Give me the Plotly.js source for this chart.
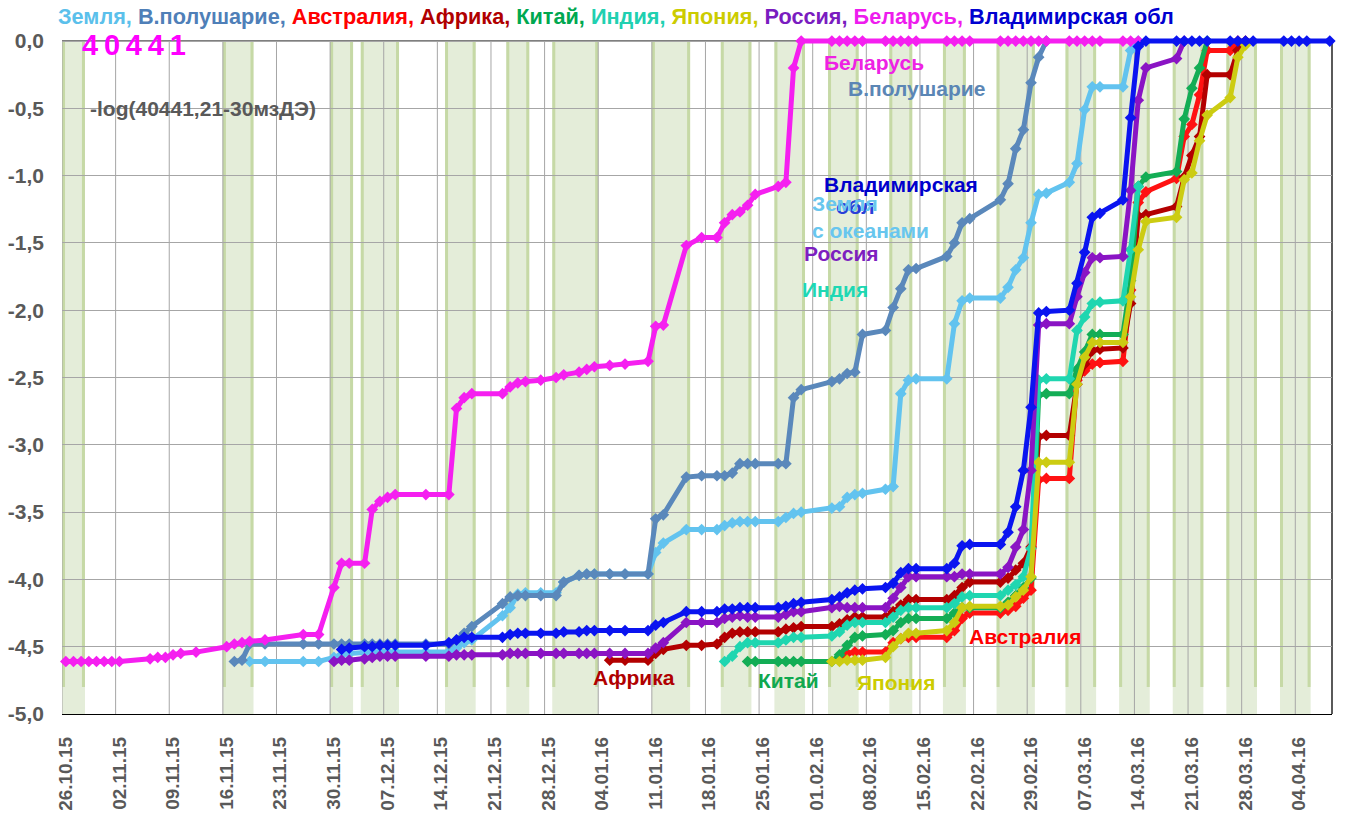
<!DOCTYPE html>
<html>
<head>
<meta charset="utf-8">
<script src="https://cdn.plot.ly/plotly-3.0.1.min.js"></script>
<style>
body{margin:0;background:#fff;}
#chart{width:1352px;height:814px;}
</style>
</head>
<body>
<div id="chart"></div>
<script>
// measurement dates (dd.mm.yy), every series is a run of these
var dates = ['26.10.15','27.10.15','28.10.15','29.10.15','30.10.15','31.10.15','01.11.15','02.11.15',
 '06.11.15','07.11.15','08.11.15','09.11.15','10.11.15','12.11.15','16.11.15','17.11.15','18.11.15','19.11.15',
 '21.11.15','26.11.15','28.11.15','30.11.15','01.12.15','02.12.15','04.12.15','05.12.15','06.12.15','07.12.15',
 '08.12.15','12.12.15','15.12.15','16.12.15','17.12.15','18.12.15','22.12.15','23.12.15','24.12.15','25.12.15',
 '27.12.15','29.12.15','30.12.15','01.01.16','02.01.16','03.01.16','05.01.16','07.01.16','10.01.16','11.01.16',
 '12.01.16','15.01.16','17.01.16','19.01.16','20.01.16','21.01.16','22.01.16','23.01.16','24.01.16','27.01.16',
 '28.01.16','29.01.16','30.01.16','03.02.16','04.02.16','05.02.16','06.02.16','07.02.16','10.02.16','11.02.16',
 '12.02.16','13.02.16','14.02.16','18.02.16','19.02.16','20.02.16','21.02.16','25.02.16','26.02.16','27.02.16',
 '28.02.16','29.02.16','01.03.16','02.03.16','05.03.16','06.03.16','07.03.16','08.03.16','09.03.16','12.03.16',
 '13.03.16','14.03.16','15.03.16','19.03.16','20.03.16','21.03.16','22.03.16','23.03.16','26.03.16','27.03.16',
 '28.03.16','29.03.16','02.04.16','03.04.16','04.04.16','05.04.16','08.04.16'];

// -log values, each list starts at its own first date
var earthStart = '19.11.15';
var earth = [-4.61,-4.61,-4.61,-4.61,-4.58,-4.56,-4.55,-4.54,-4.54,-4.54,-4.54,-4.54,-4.54,
 -4.54,-4.51,-4.47,-4.45,-4.27,-4.21,-4.11,-4.10,-4.10,-4.10,-4.02,
 -3.97,-3.96,-3.96,-3.96,-3.96,-3.96,
 -3.80,-3.73,-3.63,-3.63,-3.63,-3.60,-3.58,-3.57,-3.57,-3.57,
 -3.57,-3.54,-3.51,-3.50,-3.47,-3.46,-3.39,-3.37,-3.36,
 -3.33,-3.31,-2.62,-2.52,-2.51,-2.51,-2.10,-1.93,-1.91,
 -1.91,-1.83,-1.70,-1.61,-1.35,-1.14,-1.13,
 -1.05,-0.91,-0.51,-0.34,-0.34,-0.34,-0.07,0];

var nhStart = '17.11.15';
var nh = [-4.61,-4.60,-4.48,-4.48,-4.48,-4.48,
 -4.48,-4.48,-4.48,-4.48,-4.48,-4.48,-4.48,-4.48,-4.48,
 -4.48,-4.45,-4.40,-4.35,-4.18,-4.13,-4.12,-4.12,-4.12,-4.12,-4.02,
 -3.97,-3.96,-3.96,-3.96,-3.96,-3.96,
 -3.55,-3.52,-3.24,-3.23,-3.23,-3.23,-3.21,-3.14,-3.14,-3.14,
 -3.14,-3.14,-2.65,-2.59,-2.53,-2.51,-2.47,-2.46,-2.18,
 -2.15,-1.98,-1.84,-1.70,-1.69,-1.60,-1.50,-1.35,-1.32,
 -1.18,-1.06,-0.80,-0.66,-0.31,-0.12,0];

var ausStart = '04.02.16';
var aus = [-4.58,-4.55,-4.54,-4.54,-4.54,-4.47,-4.44,-4.43,-4.43,
 -4.43,-4.38,-4.29,-4.25,-4.25,-4.23,-4.20,-4.14,-4.08,-3.26,-3.25,
 -3.25,-2.52,-2.45,-2.40,-2.39,-2.38,-1.85,-1.20,-1.12,
 -1.02,-0.71,-0.62,-0.40,-0.07,-0.07,0];

var afrStart = '05.01.16';
var afr = [-4.60,-4.60,-4.60,
 -4.55,-4.52,-4.49,-4.49,-4.48,-4.43,-4.40,-4.39,-4.39,-4.39,
 -4.39,-4.37,-4.36,-4.35,-4.35,-4.33,-4.30,-4.28,-4.28,
 -4.28,-4.24,-4.19,-4.15,-4.15,-4.15,-4.12,-4.06,-4.02,
 -4.02,-3.99,-3.93,-3.88,-3.76,-2.94,-2.93,
 -2.93,-2.55,-2.40,-2.30,-2.29,-2.28,-1.95,-1.30,-1.29,
 -1.23,-1.01,-0.85,-0.71,-0.25,-0.25,-0.07,0];

var chnStart = '23.01.16';
var chn = [-4.61,-4.61,-4.61,-4.61,-4.61,-4.61,
 -4.61,-4.56,-4.49,-4.43,-4.42,-4.41,-4.38,-4.32,-4.29,-4.29,
 -4.29,-4.25,-4.21,-4.21,-4.21,-4.17,-4.12,-4.06,-3.99,-2.63,-2.62,
 -2.62,-2.44,-2.31,-2.18,-2.18,-2.18,-1.78,-1.08,-1.01,
 -0.97,-0.58,-0.35,-0.20,0];

var indStart = '20.01.16';
var ind = [-4.61,-4.57,-4.50,-4.47,-4.47,
 -4.47,-4.45,-4.43,-4.43,-4.42,-4.39,-4.34,-4.32,-4.32,
 -4.32,-4.28,-4.23,-4.21,-4.21,-4.21,-4.18,-4.13,-4.12,
 -4.12,-4.08,-4.04,-3.98,-3.77,-2.52,-2.51,
 -2.51,-2.15,-2.05,-1.95,-1.94,-1.93,-1.55,-1.08];

var jpnStart = '03.02.16';
var jpn = [-4.61,-4.61,-4.60,-4.60,-4.60,
 -4.58,-4.50,-4.44,-4.40,-4.40,-4.38,-4.32,-4.21,-4.20,
 -4.20,-4.19,-4.13,-4.08,-3.98,-3.13,-3.13,
 -3.13,-2.55,-2.35,-2.24,-2.24,-2.24,-1.90,-1.55,-1.34,
 -1.31,-1.03,-0.98,-0.74,-0.55,-0.42,-0.12,-0.03];

var rusStart = '30.11.15';
var rus = [-4.61,-4.60,-4.60,-4.59,-4.58,-4.57,-4.57,-4.57,-4.57,
 -4.57,-4.56,-4.56,-4.56,-4.56,-4.55,-4.55,-4.55,-4.55,-4.55,-4.55,
 -4.55,-4.55,-4.55,-4.55,-4.55,-4.55,
 -4.51,-4.47,-4.32,-4.32,-4.32,-4.29,-4.28,-4.27,-4.28,-4.28,
 -4.28,-4.26,-4.24,-4.24,-4.21,-4.20,-4.21,-4.21,-4.21,
 -4.21,-4.14,-4.06,-3.98,-3.98,-3.98,-3.98,-3.96,-3.96,
 -3.96,-3.91,-3.76,-3.63,-3.19,-2.11,-2.10,
 -2.10,-1.90,-1.72,-1.61,-1.61,-1.60,-1.11,-0.44,-0.20,
 -0.13,0];

var belStart = '26.10.15';
var bel = [-4.61,-4.61,-4.61,-4.61,-4.61,-4.61,-4.61,-4.61,
 -4.59,-4.58,-4.58,-4.56,-4.55,-4.54,
 -4.50,-4.48,-4.47,-4.46,-4.45,-4.41,-4.41,
 -4.06,-3.88,-3.88,-3.88,-3.48,-3.42,-3.39,-3.37,-3.37,
 -3.37,-2.73,-2.65,-2.62,-2.62,-2.57,-2.54,-2.53,-2.52,-2.50,-2.48,
 -2.46,-2.44,-2.42,-2.41,-2.40,-2.38,
 -2.12,-2.11,-1.52,-1.46,-1.46,-1.35,-1.29,-1.27,-1.22,-1.14,
 -1.08,-1.05,-0.20,0,
 0,0,0,0,0,0,0,0,0,0,0,0,0,0,0,0,0,0,0,0,0,0,0,0,0,0,0,0,0];

var vlaStart = '01.12.15';
var vla = [-4.52,-4.51,-4.50,-4.50,-4.49,-4.49,-4.49,-4.49,
 -4.47,-4.45,-4.43,-4.43,-4.43,-4.41,-4.40,-4.40,-4.40,-4.40,-4.39,
 -4.39,-4.38,-4.38,-4.38,-4.38,-4.38,
 -4.34,-4.32,-4.24,-4.24,-4.24,-4.22,-4.22,-4.21,-4.21,-4.21,
 -4.21,-4.20,-4.18,-4.17,-4.15,-4.13,-4.10,-4.08,-4.07,
 -4.06,-4.03,-3.95,-3.92,-3.92,-3.92,-3.88,-3.75,-3.74,
 -3.74,-3.65,-3.46,-3.19,-2.72,-2.02,-2.01,
 -2.00,-1.80,-1.57,-1.31,-1.28,-1.18,-0.57,-0.04,0,
 0,0,0,0,0,0,0,0,0,0,0,0,0,0];

var names = ['Земля','В.полушарие','Австралия','Африка','Китай','Индия','Япония','Россия','Беларусь','Владимирская обл'];
var colors = ['#62c3ef','#5a88bb','#ff1212','#b30000','#13ad55','#1fd6b0','#cccc12','#8a14c4','#f51ff0','#0a14f0'];
var titleColors = ['#5bc0eb','#4f7fb8','#ff0000','#b00000','#00a850','#20d0b0','#cccc00','#7a1cc0','#ee1cee','#0000d0'];
var starts = [earthStart,nhStart,ausStart,afrStart,chnStart,indStart,jpnStart,rusStart,belStart,vlaStart];
var values = [earth,nh,aus,afr,chn,ind,jpn,rus,bel,vla];

// shaded periods (first and last day)
var bandFrom = ['26.10.15','16.11.15','30.11.15','04.12.15','15.12.15','23.12.15','29.12.15','11.01.16','20.01.16','27.01.16',
 '03.02.16','11.02.16','18.02.16','25.02.16','05.03.16','12.03.16','19.03.16','26.03.16','02.04.16'];
var bandTo = ['28.10.15','19.11.15','02.12.15','08.12.15','18.12.15','25.12.15','03.01.16','15.01.16','23.01.16','30.01.16',
 '06.02.16','13.02.16','20.02.16','29.02.16','08.03.16','15.03.16','22.03.16','29.03.16','05.04.16'];

var yTicks = [0,-0.5,-1,-1.5,-2,-2.5,-3,-3.5,-4,-4.5,-5];

function iso(s){ return '20'+s.slice(6,8)+'-'+s.slice(3,5)+'-'+s.slice(0,2); }
function ms(s){ return Date.UTC(+('20'+s.slice(6,8)), +s.slice(3,5)-1, +s.slice(0,2)); }
var HALF = 43200000, DAY = 86400000;

var data = [];
for(var i=0;i<names.length;i++){
  var k = dates.indexOf(starts[i]);
  var xs = dates.slice(k, k+values[i].length).map(iso);
  data.push({x:xs, y:values[i], type:'scatter', mode:'lines+markers', name:names[i],
    line:{color:colors[i], width:5}, marker:{symbol:'diamond', size:9, color:colors[i]},
    cliponaxis:false, hoverinfo:'x+y+name'});
}

var shapes = [];
// green bands
for(var b=0;b<bandFrom.length;b++){
  var x0 = ms(bandFrom[b])-HALF, x1 = ms(bandTo[b])+HALF;
  shapes.push({type:'rect', layer:'below', xref:'x', yref:'y', x0:x0, x1:x1, y0:-5, y1:0,
    fillcolor:'#e4edd9', line:{width:0}});
  [x0+0.2*DAY, x1-0.2*DAY].forEach(function(xe){
    shapes.push({type:'line', layer:'below', xref:'x', yref:'y', x0:xe, x1:xe, y0:-4.8, y1:0,
      line:{color:'#c6d9a6', width:3}});
  });
}
// weekly grid lines sit on day boundaries
for(var w=0; w<=23; w++){
  var xg = ms('26.10.15') + w*7*DAY - HALF;
  shapes.push({type:'line', layer:'below', xref:'x', yref:'y', x0:xg, x1:xg, y0:-5, y1:0,
    line:{color:'#a6a6a6', width:1}});
}
// frame: top at 0, right side
shapes.push({type:'line', layer:'between', xref:'paper', yref:'y', x0:0, x1:1, y0:0, y1:0, line:{color:'#000', width:1.3}});
shapes.push({type:'line', layer:'between', xref:'paper', yref:'y', x0:1, x1:1, y0:-5, y1:0, line:{color:'#000', width:1.3}});

// title: names in series colours
var title = names.map(function(n,i){
  return '<span style="color:'+titleColors[i]+'">'+n+(i<names.length-1?',':'')+'</span>';
}).join(' ');

// labels placed by pixel of the 1352x814 picture
function px(x){ return (x-62)/1270; }
function py(y){ return (714-y)/677; }
function lab(text, x, y, color, size){
  return {text:text, xref:'paper', yref:'paper', x:px(x), y:py(y), xanchor:'left', yanchor:'middle',
    showarrow:false, align:'left', font:{family:'Liberation Sans, Arial, sans-serif', size:size||21, color:color, weight:'bold'}};
}
var annotations = [
  lab('4\u20090\u20094\u20094\u20091', 80, 45, '#ff00ff', 29),
  lab('-log(40441,21-30мзДЭ)', 88, 108, '#595959', 21),
  lab('Беларусь', 822, 62, '#ee22e4', 21),
  lab('В.полушарие', 846, 88, '#5b86b5', 21),
  lab('Владимирская', 822, 185, '#0000cc', 21),
  lab('обл', 834, 206, '#2a3fd8', 21),
  lab('Земля<br>с океанами', 810, 217, '#68c6ee', 21),
  lab('Россия', 802, 253, '#7d1fbf', 21),
  lab('Индия', 800, 289, '#1ed8b4', 21),
  lab('Африка', 591, 677, '#b00000', 21),
  lab('Китай', 756, 680, '#10a850', 21),
  lab('Япония', 855, 682, '#cccc00', 21),
  lab('Австралия', 967, 636, '#ff0000', 21)
];

var layout = {
  width:1352, height:814,
  margin:{l:62, r:20, t:37, b:100},
  paper_bgcolor:'#fff', plot_bgcolor:'#fff',
  showlegend:false,
  title:{text:title, x:58/1352, xanchor:'left', xref:'container', y:1-16/814, yanchor:'middle', yref:'container',
    font:{family:'Liberation Sans, Arial, sans-serif', size:21.7, weight:'bold'}},
  xaxis:{type:'date', range:['2015-10-25 12:00','2016-04-08 07:00'], tick0:'2015-10-26', dtick:7*DAY,
    tickformat:'%d.%m.%y', tickangle:-90, showgrid:false, zeroline:false,
    showline:true, linecolor:'#000', linewidth:1.3, ticks:'', ticklabelstandoff:14,
    tickfont:{family:'Liberation Sans, Arial, sans-serif', size:19, color:'#595959', weight:'bold'}},
  yaxis:{range:[-5,0.03], tickvals:yTicks,
    ticktext:yTicks.map(function(v){ return v.toFixed(1).replace('.', ','); }),
    gridcolor:'#a6a6a6', gridwidth:1, zeroline:false, showline:false, ticks:'', ticklabelstandoff:17,
    tickfont:{family:'Liberation Sans, Arial, sans-serif', size:21, color:'#595959', weight:'bold'}},
  shapes:shapes,
  annotations:annotations
};

Plotly.newPlot('chart', data, layout, {displayModeBar:false, staticPlot:true});
</script>
</body>
</html>
